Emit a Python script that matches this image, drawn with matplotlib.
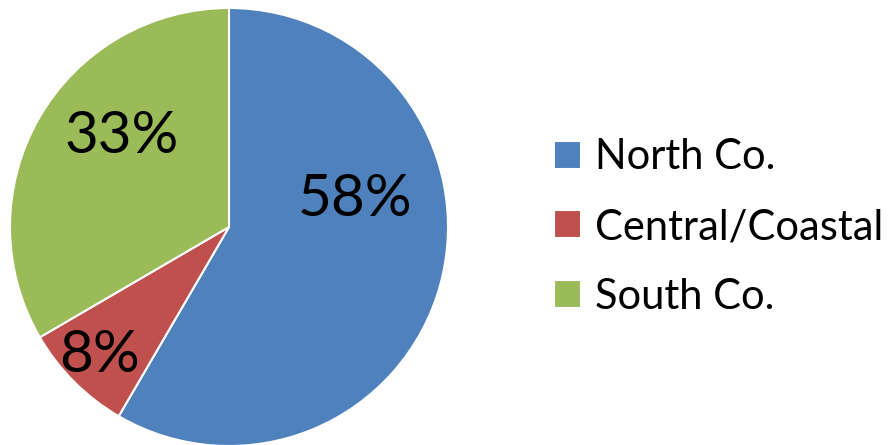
import matplotlib.pyplot as plt

regions = ['North Co.', 'Central/Coastal', 'South Co.']
shares = [58.4, 8.2, 33.4]
colors = ['#4F81BD', '#C0504D', '#9BBB59']
# label spots inside the slices (Excel "best fit" style)
label_pos = [(0.575, 0.125), (-0.59, -0.585), (-0.49, 0.415)]

plt.rcParams['font.family'] = ['Lato', 'DejaVu Sans']

fig = plt.figure(figsize=(8.94, 4.45), dpi=100)
ax = fig.add_axes([10 / 894, -1 / 445, 438 / 894, 438 / 445])

wedges, _ = ax.pie(shares, colors=colors, startangle=90, counterclock=False,
                   radius=1, wedgeprops=dict(edgecolor='white', linewidth=1.5))
for (x, y), v in zip(label_pos, shares):
    ax.text(x, y, '%.0f%%' % v, ha='center', va='center', fontsize=42, color='black')
ax.set_xlim(-1, 1)
ax.set_ylim(-1, 1)
ax.set_aspect('equal')
ax.axis('off')

fig.legend(wedges, regions, loc='center left', bbox_to_anchor=(554 / 894, 1 - 227 / 445),
           frameon=False, fontsize=30, handlelength=0.65, handleheight=0.65,
           handletextpad=0.34, labelspacing=0.76, borderaxespad=0, borderpad=0)

fig.savefig('out.png', dpi=100)
